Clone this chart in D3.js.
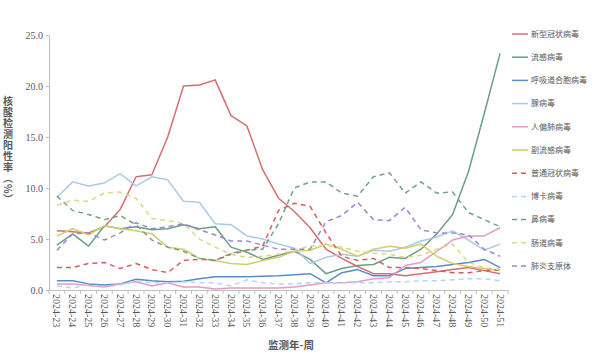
<!DOCTYPE html>
<html><head><meta charset="utf-8">
<script src="https://cdn.jsdelivr.net/npm/d3@7/dist/d3.min.js"></script>
<style>
html,body{margin:0;padding:0;background:#fff;}
svg{display:block;}
</style>
</head><body>
<svg id="chart" width="600" height="361"></svg>
<script>
const weeks = ["2024-23","2024-24","2024-25","2024-26","2024-27","2024-28","2024-29","2024-30","2024-31","2024-32","2024-33","2024-34","2024-35","2024-36","2024-37","2024-38","2024-39","2024-40","2024-41","2024-42","2024-43","2024-44","2024-45","2024-46","2024-47","2024-48","2024-49","2024-50","2024-51"];
const yTicks = [0, 5, 10, 15, 20, 25];

const covid19   = [5.8,5.7,5.6,6.2,7.9,11.1,11.3,15.0,20.0,20.1,20.6,17.1,16.1,11.8,9.0,7.7,6.1,4.0,3.1,2.3,1.6,1.6,1.4,1.6,1.8,2.0,2.2,1.9,1.6];
const flu       = [4.4,5.5,4.3,6.3,6.0,6.2,5.9,6.0,6.4,6.0,6.2,4.2,3.7,3.0,3.4,3.8,3.0,1.6,2.1,2.4,2.5,3.2,3.1,4.0,5.5,7.4,11.6,17.3,23.2];
const rsv       = [0.9,0.9,0.6,0.5,0.6,1.05,0.9,0.8,0.85,1.1,1.3,1.3,1.3,1.35,1.4,1.5,1.6,0.7,1.7,2.0,1.4,1.4,2.1,2.2,2.3,2.5,2.7,3.0,2.2];
const adeno     = [9.1,10.6,10.2,10.5,11.4,10.2,11.1,10.8,8.7,8.6,6.5,6.4,5.3,5.0,4.5,4.1,2.6,3.2,3.5,3.3,3.9,3.8,4.2,4.8,5.2,5.8,4.9,3.9,4.5];
const hmpv      = [0.6,0.6,0.45,0.3,0.6,0.8,0.4,0.7,0.3,0.3,0.1,0.2,0.2,0.2,0.2,0.3,0.5,0.7,0.7,0.8,1.1,1.2,2.4,2.7,3.8,4.9,5.3,5.3,6.1];
const paraflu   = [5.3,6.0,5.4,6.3,6.0,5.8,5.5,4.2,4.0,3.1,2.9,2.6,2.5,2.9,3.2,3.8,3.9,4.5,4.0,3.3,4.0,4.3,4.1,4.5,3.3,2.6,2.3,2.1,1.9];
const hcov      = [2.2,2.2,2.6,2.7,2.1,2.6,2.0,1.7,2.9,3.0,2.9,3.5,3.9,4.3,7.8,8.5,8.2,5.6,3.3,2.9,3.1,2.2,2.2,2.1,1.9,1.7,1.7,1.9,2.0];
const boca      = [0.4,0.2,0.5,0.3,0.5,0.9,0.7,0.7,0.8,0.7,0.7,0.4,1.0,0.7,0.6,0.6,0.7,0.7,0.7,0.7,0.7,0.8,0.8,0.9,0.9,1.0,1.1,1.1,0.9];
const rhino     = [9.2,7.8,7.4,6.9,7.3,6.4,4.9,4.2,3.8,3.1,2.9,3.6,3.9,4.0,6.5,10.0,10.6,10.6,9.5,9.2,11.1,11.5,9.5,10.6,9.5,9.6,7.6,6.9,6.2];
const entero    = [8.3,8.8,8.7,9.5,9.6,9.0,7.0,6.8,6.5,5.0,4.2,3.5,3.2,3.3,3.5,3.9,4.3,4.4,4.2,3.8,3.6,3.5,3.2,3.4,4.0,4.5,2.7,2.2,2.0];
const mycoplasma= [3.9,5.5,5.6,4.9,5.6,6.6,6.0,6.2,6.5,5.9,5.4,4.8,4.8,4.4,4.0,4.0,4.0,6.7,7.3,8.6,6.9,6.8,8.1,5.9,5.6,5.6,5.4,4.0,3.3];

const seriesNames = ["新型冠状病毒","流感病毒","呼吸道合胞病毒","腺病毒","人偏肺病毒","副流感病毒","普通冠状病毒","博卡病毒","鼻病毒","肠道病毒","肺炎支原体"];
const seriesValues = [covid19, flu, rsv, adeno, hmpv, paraflu, hcov, boca, rhino, entero, mycoplasma];
const seriesColors = ["#D36F70","#6B9F82","#5A8DC7","#A9CAEB","#E49BC3","#D3CD6B","#D65D5D","#B9D4F0","#71A48A","#DDD883","#9D85D3"];
const seriesDashed = [false,false,false,false,false,false,true,true,true,true,true];

const svg = d3.select("#chart");
const x = d3.scaleBand().domain(weeks).range([49, 508]);
const y = d3.scaleLinear().domain([0, 25]).range([290, 35]);

const axisColor = "#BFBFBF";
const textColor = "#595959";
const serif = "'Liberation Serif','DejaVu Serif',serif";
const cjk = "'Noto Sans CJK SC','Noto Sans CJK JP',sans-serif";

// Y axis
const yAxis = svg.append("g").attr("transform","translate(49,0)")
  .call(d3.axisLeft(y).tickValues(yTicks).tickFormat(d3.format(".1f")).tickSize(3).tickSizeOuter(0));
yAxis.select(".domain").attr("stroke", axisColor);
yAxis.selectAll(".tick line").attr("stroke", axisColor);
yAxis.selectAll(".tick text").attr("fill", textColor).attr("font-family", serif).attr("font-size", 10).attr("x", -6);

// X axis
const xAxis = svg.append("g").attr("transform","translate(0,290)")
  .call(d3.axisBottom(x).tickSize(0).tickSizeOuter(0));
xAxis.select(".domain").attr("stroke", axisColor);
xAxis.selectAll(".tick text")
  .attr("fill", textColor).attr("font-family", serif).attr("font-size", 10)
  .attr("transform","rotate(90)").attr("text-anchor","start")
  .attr("x", 4).attr("y", 0).attr("dy","0.35em");
// tick marks between categories
const boundaries = weeks.map(w => x(w)).concat([x(weeks[weeks.length-1]) + x.bandwidth()]);
svg.append("g").selectAll("line").data(boundaries).join("line")
  .attr("x1", d => d).attr("x2", d => d).attr("y1", 290).attr("y2", 294)
  .attr("stroke", axisColor);

// lines
const line = d3.line().x((d,i) => x(weeks[i]) + x.bandwidth()/2).y(d => y(d));
seriesValues.forEach((vals, k) => {
  svg.append("path").datum(vals)
    .attr("d", line).attr("fill","none")
    .attr("stroke", seriesColors[k]).attr("stroke-width", 1.5)
    .attr("stroke-linejoin","round")
    .attr("stroke-dasharray", seriesDashed[k] ? "5,4" : null);
});

// Legend
const lg = svg.append("g");
seriesNames.forEach((name, k) => {
  const yy = 34 + k * 23.2;
  lg.append("line").attr("x1", 512).attr("x2", 528).attr("y1", yy).attr("y2", yy)
    .attr("stroke", seriesColors[k]).attr("stroke-width", 1.5)
    .attr("stroke-dasharray", seriesDashed[k] ? "5,4" : null);
  lg.append("text").attr("x", 531).attr("y", yy).attr("dy","0.35em")
    .attr("font-family", cjk).attr("font-size", 8).attr("fill", textColor).text(name);
});

// Y title (vertical)
svg.append("text")
  .attr("x", 8).attr("y", 96)
  .attr("font-family", cjk).attr("font-size", 10).attr("font-weight", "bold").attr("fill", textColor)
  .style("writing-mode","vertical-rl").style("text-orientation","mixed")
  .attr("letter-spacing", 1)
  .text("核酸检测阳性率（%）");

// X title
svg.append("text").attr("x", 291).attr("y", 349).attr("text-anchor","middle")
  .attr("font-family", cjk).attr("font-size", 10.5).attr("font-weight","bold").attr("fill", textColor)
  .text("监测年-周");
</script>
</body></html>
